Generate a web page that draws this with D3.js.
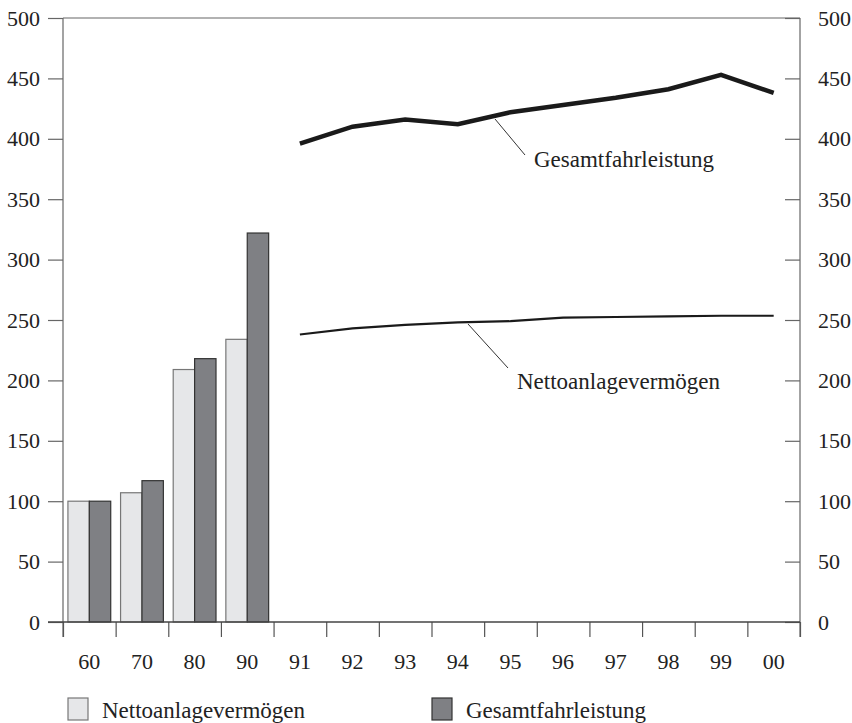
<!DOCTYPE html>
<html>
<head>
<meta charset="utf-8">
<script src="https://cdnjs.cloudflare.com/ajax/libs/d3/7.8.5/d3.min.js"></script>
<style>
  body { margin: 0; background: #fff; }
  text { font-family: "Liberation Serif", "Times New Roman", serif; fill: #222; }
</style>
</head>
<body>
<div id="chart"></div>
<script>
// Kategorien und Werte (Index)
var kategorien = ["60", "70", "80", "90", "91", "92", "93", "94", "95", "96", "97", "98", "99", "00"];
var balkenJahre = ["60", "70", "80", "90"];
var balkenNetto = [100, 107, 209, 234];
var balkenGesamt = [100, 117, 218, 322];
var linienJahre = ["91", "92", "93", "94", "95", "96", "97", "98", "99", "00"];
var linieGesamt = [396, 410, 416, 412, 422, 428, 434, 441, 453, 438];
var linieNetto = [238, 243, 246, 248, 249, 252, 252.5, 253, 253.5, 253.5];
var yTicks = [0, 50, 100, 150, 200, 250, 300, 350, 400, 450, 500];

var width = 852, height = 723;
var rand = { links: 63, rechts: 800, oben: 18, unten: 622 };

var svg = d3.select("#chart").append("svg")
    .attr("width", width)
    .attr("height", height);

var x = d3.scaleBand()
    .domain(kategorien)
    .range([rand.links, rand.rechts]);

var xi = d3.scaleLinear()
    .domain([0, kategorien.length])
    .range([rand.links, rand.rechts]);

var serien = d3.scaleBand()
    .domain(["netto", "gesamt"])
    .range([0, x.bandwidth()])
    .paddingOuter(0.23);

var y = d3.scaleLinear()
    .domain([0, 500])
    .range([rand.unten, rand.oben]);

// Achsen
var yLinks = d3.axisLeft(y).tickValues(yTicks).tickSize(15).tickPadding(8);
var yRechts = d3.axisRight(y).tickValues(yTicks).tickSize(-15).tickPadding(18);

var gl = svg.append("g").attr("transform", "translate(" + rand.links + ",0)").call(yLinks);
var gr = svg.append("g").attr("transform", "translate(" + rand.rechts + ",0)").call(yRechts);

[gl, gr].forEach(function(g) {
    g.select(".domain").remove();
    g.selectAll("line").attr("stroke", "#666").attr("stroke-width", 1.2);
    g.selectAll("text").style("font-size", "22px").attr("fill", "#222")
        .style("font-family", "'Liberation Serif', serif");
});

// Rahmen
svg.append("line").attr("x1", rand.links).attr("x2", rand.links)
    .attr("y1", rand.oben).attr("y2", rand.unten + 15)
    .attr("stroke", "#666").attr("stroke-width", 1.2);
svg.append("line").attr("x1", rand.rechts).attr("x2", rand.rechts)
    .attr("y1", rand.oben).attr("y2", rand.unten + 15)
    .attr("stroke", "#666").attr("stroke-width", 1.2);
svg.append("line").attr("x1", rand.links).attr("x2", rand.rechts)
    .attr("y1", rand.oben).attr("y2", rand.oben)
    .attr("stroke", "#666").attr("stroke-width", 1.2);

// x-Achse: Trennstriche
var xStriche = d3.axisBottom(xi).tickValues(d3.range(0, kategorien.length + 1))
    .tickSize(15).tickFormat("");
var gx = svg.append("g").attr("transform", "translate(0," + rand.unten + ")").call(xStriche);
gx.select(".domain").remove();
gx.selectAll("line").attr("stroke", "#555").attr("stroke-width", 1.2);

var xLabels = d3.axisBottom(x).tickSize(0).tickPadding(31);
var gxl = svg.append("g").attr("transform", "translate(0," + rand.unten + ")").call(xLabels);
gxl.select(".domain").remove();
gxl.selectAll("text").style("font-size", "22px").attr("fill", "#222")
    .style("font-family", "'Liberation Serif', serif");

// Balken
var balken = balkenJahre.map(function(j, i) {
    return { jahr: j, netto: balkenNetto[i], gesamt: balkenGesamt[i] };
});

var gruppen = svg.selectAll(".gruppe")
    .data(balken)
    .enter().append("g")
    .attr("transform", function(d) { return "translate(" + x(d.jahr) + ",0)"; });

gruppen.append("rect")
    .attr("x", serien("netto"))
    .attr("width", serien.bandwidth())
    .attr("y", function(d) { return y(d.netto); })
    .attr("height", function(d) { return y(0) - y(d.netto); })
    .attr("fill", "#e6e7e9")
    .attr("stroke", "#777")
    .attr("stroke-width", 1.2);

gruppen.append("rect")
    .attr("x", serien("gesamt"))
    .attr("width", serien.bandwidth())
    .attr("y", function(d) { return y(d.gesamt); })
    .attr("height", function(d) { return y(0) - y(d.gesamt); })
    .attr("fill", "#7f8084")
    .attr("stroke", "#333")
    .attr("stroke-width", 1.2);

// Nulllinie
svg.append("line").attr("x1", rand.links - 15).attr("x2", rand.rechts)
    .attr("y1", rand.unten).attr("y2", rand.unten)
    .attr("stroke", "#444").attr("stroke-width", 1.4);

// Linien
var linie = d3.line()
    .x(function(d) { return x(d[0]) + x.bandwidth() / 2; })
    .y(function(d) { return y(d[1]); });

svg.append("path")
    .datum(d3.zip(linienJahre, linieGesamt))
    .attr("fill", "none")
    .attr("stroke", "#1a1a1a")
    .attr("stroke-width", 4.5)
    .attr("d", linie);

svg.append("path")
    .datum(d3.zip(linienJahre, linieNetto))
    .attr("fill", "none")
    .attr("stroke", "#1a1a1a")
    .attr("stroke-width", 2.2)
    .attr("d", linie);

// Beschriftungen mit Hinweislinien
svg.append("line").attr("x1", 495).attr("y1", 119).attr("x2", 525).attr("y2", 155)
    .attr("stroke", "#333").attr("stroke-width", 1);
svg.append("text").attr("x", 534).attr("y", 167)
    .style("font-size", "23px").text("Gesamtfahrleistung");

svg.append("line").attr("x1", 468).attr("y1", 324).attr("x2", 508).attr("y2", 368)
    .attr("stroke", "#333").attr("stroke-width", 1);
svg.append("text").attr("x", 517).attr("y", 389)
    .style("font-size", "23px").text("Nettoanlagevermögen");

// Legende
var legende = [
    { name: "Nettoanlagevermögen", farbe: "#e6e7e9", rand: "#777", x: 68 },
    { name: "Gesamtfahrleistung", farbe: "#7f8084", rand: "#333", x: 432 }
];
var lg = svg.selectAll(".legende").data(legende).enter().append("g");
lg.append("rect")
    .attr("x", function(d) { return d.x; })
    .attr("y", 698)
    .attr("width", 20)
    .attr("height", 22)
    .attr("fill", function(d) { return d.farbe; })
    .attr("stroke", function(d) { return d.rand; })
    .attr("stroke-width", 1.2);
lg.append("text")
    .attr("x", function(d) { return d.x + 34; })
    .attr("y", 718)
    .style("font-size", "23px")
    .text(function(d) { return d.name; });
</script>
</body>
</html>
